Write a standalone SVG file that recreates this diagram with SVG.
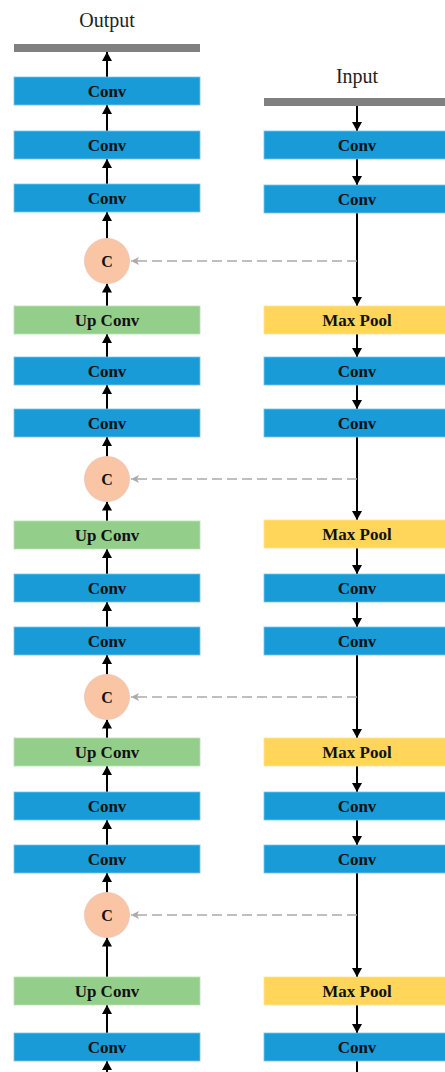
<svg xmlns="http://www.w3.org/2000/svg" width="445" height="1072" viewBox="0 0 445 1072">
<style>
.bar{fill:#808080}
.conv{fill:#189bd7;stroke:#7cc3e8;stroke-width:0.8}
.up{fill:#93cf8b;stroke:#b9e0b3;stroke-width:0.8}
.mp{fill:#ffd65a;stroke:#ffe49a;stroke-width:0.8}
.cat{fill:#fac5a5;stroke:#e9c2b0;stroke-width:0.8}
.lbl{font-family:"Liberation Serif","Times New Roman",serif;font-weight:bold;font-size:17px;fill:#111;text-anchor:middle}
.cl{font-family:"Liberation Serif","Times New Roman",serif;font-weight:bold;font-size:16px;fill:#111;text-anchor:middle}
.title{font-family:"Liberation Serif","Times New Roman",serif;font-size:20px;fill:#222;text-anchor:middle}
.a{stroke:#000;stroke-width:2;fill:none;marker-end:url(#ah)}
.l{stroke:#000;stroke-width:2;fill:none}
.d{stroke:#aaa;stroke-width:1.5;fill:none;stroke-dasharray:10 5;marker-end:url(#gh)}
</style>
<defs>
<marker id="ah" viewBox="0 0 9 10" markerWidth="9" markerHeight="10" refX="9" refY="5" orient="auto" markerUnits="userSpaceOnUse"><path d="M0,0 L9,5 L0,10 z" fill="#000"/></marker>
<marker id="gh" viewBox="0 0 8 8" markerWidth="8" markerHeight="8" refX="8" refY="4" orient="auto" markerUnits="userSpaceOnUse"><path d="M0,0 L8,4 L0,8 L2,4 z" fill="#aaa"/></marker>
</defs>
<text class="title" x="107" y="27">Output</text>
<text class="title" x="357" y="83">Input</text>
<g id="connectors">
<line class="a" x1="107" y1="77" x2="107" y2="52"/>
<line class="a" x1="107" y1="131" x2="107" y2="105"/>
<line class="a" x1="107" y1="184" x2="107" y2="159"/>
<line class="a" x1="107" y1="238.5" x2="107" y2="212"/>
<line class="a" x1="107" y1="306" x2="107" y2="283.5"/>
<line class="a" x1="107" y1="357" x2="107" y2="334"/>
<line class="a" x1="107" y1="409" x2="107" y2="385"/>
<line class="a" x1="107" y1="456.5" x2="107" y2="437"/>
<line class="a" x1="107" y1="521" x2="107" y2="501.5"/>
<line class="a" x1="107" y1="574" x2="107" y2="549"/>
<line class="a" x1="107" y1="627" x2="107" y2="602"/>
<line class="a" x1="107" y1="674.5" x2="107" y2="655"/>
<line class="a" x1="107" y1="738" x2="107" y2="719.5"/>
<line class="a" x1="107" y1="792" x2="107" y2="766"/>
<line class="a" x1="107" y1="845" x2="107" y2="820"/>
<line class="a" x1="107" y1="892.5" x2="107" y2="873"/>
<line class="a" x1="107" y1="977" x2="107" y2="937.5"/>
<line class="a" x1="107" y1="1033" x2="107" y2="1005"/>
<line class="a" x1="107" y1="1080" x2="107" y2="1061"/>
<line class="a" x1="357" y1="106" x2="357" y2="131"/>
<line class="a" x1="357" y1="159" x2="357" y2="185"/>
<line class="a" x1="357" y1="213" x2="357" y2="306"/>
<line class="a" x1="357" y1="334" x2="357" y2="357"/>
<line class="a" x1="357" y1="385" x2="357" y2="409"/>
<line class="a" x1="357" y1="437" x2="357" y2="520"/>
<line class="a" x1="357" y1="548" x2="357" y2="574"/>
<line class="a" x1="357" y1="602" x2="357" y2="627"/>
<line class="a" x1="357" y1="655" x2="357" y2="738"/>
<line class="a" x1="357" y1="766" x2="357" y2="792"/>
<line class="a" x1="357" y1="820" x2="357" y2="845"/>
<line class="a" x1="357" y1="873" x2="357" y2="977"/>
<line class="a" x1="357" y1="1005" x2="357" y2="1033"/>
<line class="l" x1="357" y1="1061" x2="357" y2="1075"/>
<line class="d" x1="357" y1="261" x2="131" y2="261"/>
<line class="d" x1="357" y1="479" x2="131" y2="479"/>
<line class="d" x1="357" y1="697" x2="131" y2="697"/>
<line class="d" x1="357" y1="915" x2="131" y2="915"/>
</g>
<g id="output"><rect class="bar" x="14" y="44" width="186" height="8"/></g>
<g id="input"><rect class="bar" x="264" y="98" width="186" height="8"/></g>
<g id="dec1a"><rect class="conv" x="14" y="77" width="186" height="28"/><text class="lbl" x="107" y="97">Conv</text></g>
<g id="dec1b"><rect class="conv" x="14" y="131" width="186" height="28"/><text class="lbl" x="107" y="151">Conv</text></g>
<g id="dec1c"><rect class="conv" x="14" y="184" width="186" height="28"/><text class="lbl" x="107" y="204">Conv</text></g>
<g id="cat1"><circle class="cat" cx="107" cy="261" r="22.5"/><text class="cl" x="107" y="266.5">C</text></g>
<g id="up1"><rect class="up" x="14" y="306" width="186" height="28"/><text class="lbl" x="107" y="326">Up Conv</text></g>
<g id="dec2a"><rect class="conv" x="14" y="357" width="186" height="28"/><text class="lbl" x="107" y="377">Conv</text></g>
<g id="dec2b"><rect class="conv" x="14" y="409" width="186" height="28"/><text class="lbl" x="107" y="429">Conv</text></g>
<g id="cat2"><circle class="cat" cx="107" cy="479" r="22.5"/><text class="cl" x="107" y="484.5">C</text></g>
<g id="up2"><rect class="up" x="14" y="521" width="186" height="28"/><text class="lbl" x="107" y="541">Up Conv</text></g>
<g id="dec3a"><rect class="conv" x="14" y="574" width="186" height="28"/><text class="lbl" x="107" y="594">Conv</text></g>
<g id="dec3b"><rect class="conv" x="14" y="627" width="186" height="28"/><text class="lbl" x="107" y="647">Conv</text></g>
<g id="cat3"><circle class="cat" cx="107" cy="697" r="22.5"/><text class="cl" x="107" y="702.5">C</text></g>
<g id="up3"><rect class="up" x="14" y="738" width="186" height="28"/><text class="lbl" x="107" y="758">Up Conv</text></g>
<g id="dec4a"><rect class="conv" x="14" y="792" width="186" height="28"/><text class="lbl" x="107" y="812">Conv</text></g>
<g id="dec4b"><rect class="conv" x="14" y="845" width="186" height="28"/><text class="lbl" x="107" y="865">Conv</text></g>
<g id="cat4"><circle class="cat" cx="107" cy="915" r="22.5"/><text class="cl" x="107" y="920.5">C</text></g>
<g id="up4"><rect class="up" x="14" y="977" width="186" height="28"/><text class="lbl" x="107" y="997">Up Conv</text></g>
<g id="dec5a"><rect class="conv" x="14" y="1033" width="186" height="28"/><text class="lbl" x="107" y="1053">Conv</text></g>
<g id="enc1a"><rect class="conv" x="264" y="131" width="186" height="28"/><text class="lbl" x="357" y="151">Conv</text></g>
<g id="enc1b"><rect class="conv" x="264" y="185" width="186" height="28"/><text class="lbl" x="357" y="205">Conv</text></g>
<g id="mp1"><rect class="mp" x="264" y="306" width="186" height="28"/><text class="lbl" x="357" y="326">Max Pool</text></g>
<g id="enc2a"><rect class="conv" x="264" y="357" width="186" height="28"/><text class="lbl" x="357" y="377">Conv</text></g>
<g id="enc2b"><rect class="conv" x="264" y="409" width="186" height="28"/><text class="lbl" x="357" y="429">Conv</text></g>
<g id="mp2"><rect class="mp" x="264" y="520" width="186" height="28"/><text class="lbl" x="357" y="540">Max Pool</text></g>
<g id="enc3a"><rect class="conv" x="264" y="574" width="186" height="28"/><text class="lbl" x="357" y="594">Conv</text></g>
<g id="enc3b"><rect class="conv" x="264" y="627" width="186" height="28"/><text class="lbl" x="357" y="647">Conv</text></g>
<g id="mp3"><rect class="mp" x="264" y="738" width="186" height="28"/><text class="lbl" x="357" y="758">Max Pool</text></g>
<g id="enc4a"><rect class="conv" x="264" y="792" width="186" height="28"/><text class="lbl" x="357" y="812">Conv</text></g>
<g id="enc4b"><rect class="conv" x="264" y="845" width="186" height="28"/><text class="lbl" x="357" y="865">Conv</text></g>
<g id="mp4"><rect class="mp" x="264" y="977" width="186" height="28"/><text class="lbl" x="357" y="997">Max Pool</text></g>
<g id="enc5a"><rect class="conv" x="264" y="1033" width="186" height="28"/><text class="lbl" x="357" y="1053">Conv</text></g>
</svg>
